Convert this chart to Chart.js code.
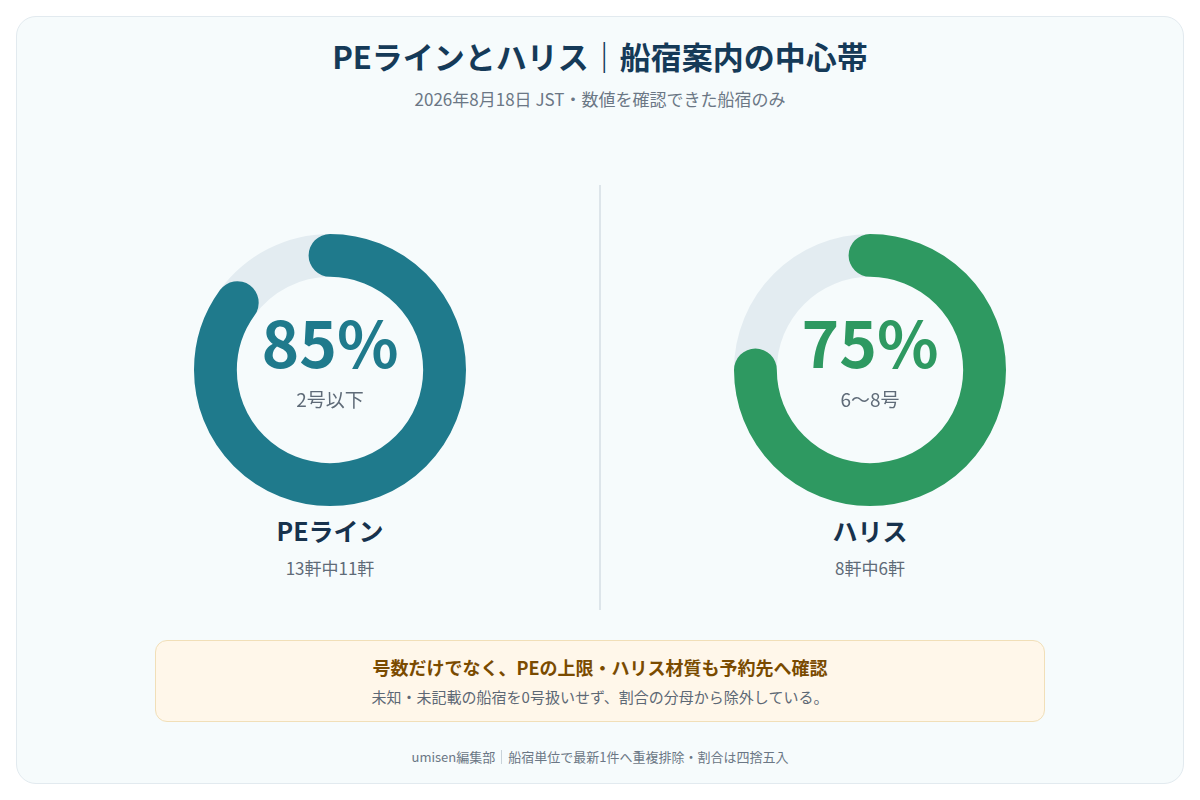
<!DOCTYPE html>
<html lang="ja">
<head>
<meta charset="utf-8">
<script src="https://cdn.jsdelivr.net/npm/chart.js@4.4.1/dist/chart.umd.min.js"></script>
<style>
  html, body { margin: 0; padding: 0; }
  body {
    width: 1200px; height: 800px; background: #ffffff; position: relative;
    font-family: "Noto Sans CJK JP", "Noto Sans", sans-serif; color: #17324d;
  }
  .card {
    position: absolute; left: 16px; top: 16px; width: 1168px; height: 768px;
    box-sizing: border-box; background: #f6fbfc; border: 1px solid #e2eaef; border-radius: 20px;
  }
  .t { position: absolute; left: 0; width: 1200px; text-align: center; white-space: nowrap; }
  .title { top: 36px; line-height: 40px; font-size: 31px; font-weight: 700; color: #153a58; }
  .sub { top: 88px; line-height: 22px; font-size: 17px; color: #6b7785; }
  .donut { position: absolute; top: 230px; width: 280px; height: 280px; }
  .col { position: absolute; width: 540px; text-align: center; white-space: nowrap; }
  .pct { top: 310px; line-height: 60px; font-size: 64px; font-weight: 700; }
  .range { top: 387px; line-height: 24px; font-size: 19px; color: #5f6b78; }
  .name { top: 514px; line-height: 32px; font-size: 25px; font-weight: 700; color: #17324d; }
  .count { top: 557px; line-height: 22px; font-size: 17px; color: #5f6b78; }
  .divider { position: absolute; left: 599px; top: 185px; width: 2px; height: 425px; background: #dde5ea; }
  .note {
    position: absolute; left: 155px; top: 640px; width: 890px; height: 82px; box-sizing: border-box;
    background: #fff7ea; border: 1px solid #f1dfb8; border-radius: 12px;
  }
  .noteTitle { top: 655px; line-height: 24px; font-size: 18px; font-weight: 700; color: #7a4b00; }
  .noteSub { top: 687px; line-height: 20px; font-size: 15px; color: #5d6875; }
  .foot { top: 748px; line-height: 18px; font-size: 13px; color: #6b7785; }
  .bar { display: inline-block; width: 1px; height: 14px; background: #c9d3da; margin: 0 6px; vertical-align: -2px; }
</style>
</head>
<body>
<div class="card"></div>
<div class="t title">PEラインとハリス｜船宿案内の中心帯</div>
<div class="t sub">2026年8月18日 JST・数値を確認できた船宿のみ</div>
<div class="divider"></div>
<div id="charts"></div>
<div class="note"></div>
<div class="t noteTitle">号数だけでなく、PEの上限・ハリス材質も予約先へ確認</div>
<div class="t noteSub">未知・未記載の船宿を0号扱いせず、割合の分母から除外している。</div>
<div class="t foot">umisen編集部<span class="bar"></span>船宿単位で最新1件へ重複排除・割合は四捨五入</div>

<script>
// data
const names = ["PEライン", "ハリス"];
const ranges = ["2号以下", "6〜8号"];
const shares = [85, 75];
const matched = [11, 6];
const totals = [13, 8];

const colors = ["#1f7a8c", "#2e9961"];
const trackColor = "#e3ecf1";
const centersX = [330, 870];

// draws the value slice as a thick stroke with round ends
const roundCap = {
  id: "roundCap",
  afterDatasetsDraw(chart) {
    const arc = chart.getDatasetMeta(0).data[0];
    const p = arc.getProps(["x", "y", "startAngle", "endAngle", "innerRadius", "outerRadius"], true);
    const ctx = chart.ctx;
    ctx.save();
    ctx.beginPath();
    ctx.arc(p.x, p.y, (p.innerRadius + p.outerRadius) / 2, p.startAngle, p.endAngle);
    ctx.lineWidth = p.outerRadius - p.innerRadius;
    ctx.lineCap = "round";
    ctx.strokeStyle = chart.options.valueColor;
    ctx.stroke();
    ctx.restore();
  }
};

const holder = document.getElementById("charts");

names.forEach((name, i) => {
  const left = centersX[i] - 270;

  const wrap = document.createElement("div");
  wrap.className = "donut";
  wrap.style.left = (centersX[i] - 140) + "px";
  const canvas = document.createElement("canvas");
  wrap.appendChild(canvas);
  holder.appendChild(wrap);

  const texts = [
    ["pct", shares[i] + "%"],
    ["range", ranges[i]],
    ["name", name],
    ["count", totals[i] + "軒中" + matched[i] + "軒"]
  ];
  texts.forEach(([cls, txt]) => {
    const d = document.createElement("div");
    d.className = "col " + cls;
    d.style.left = left + "px";
    d.textContent = txt;
    if (cls === "pct") d.style.color = colors[i];
    holder.appendChild(d);
  });

  new Chart(canvas, {
    type: "doughnut",
    data: {
      labels: [name, "その他"],
      datasets: [{
        data: [shares[i], 100 - shares[i]],
        backgroundColor: ["rgba(0,0,0,0)", trackColor],
        borderWidth: 0
      }]
    },
    options: {
      valueColor: colors[i],
      responsive: true,
      maintainAspectRatio: false,
      animation: false,
      cutout: "68.5%",
      layout: { padding: 4 },
      plugins: {
        legend: { display: false },
        tooltip: { enabled: false }
      }
    },
    plugins: [roundCap]
  });
});
</script>
</body>
</html>
